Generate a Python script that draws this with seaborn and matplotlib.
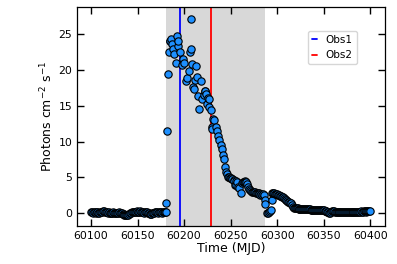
import numpy as np
import pandas as pd
import matplotlib
matplotlib.use('Agg')
import matplotlib.pyplot as plt
import seaborn as sns

# quiescent phase before the outburst (daily, starting MJD 60100)
pre_start = 60100
pre_flux = [0.10, 0.12, 0.08, 0.10, 0.15, 0.05, 0.10, 0.12, 0.08, 0.05,
            0.10, 0.15, 0.20, 0.25, 0.30, 0.20, 0.15, 0.10, 0.05, 0.10,
            0.08, 0.05, 0.00, 0.05, 0.10, 0.05, 0.00, -0.05, 0.00, 0.05,
            0.10, 0.05, 0.00, -0.05, -0.10, -0.15, -0.20, -0.25, -0.30, -0.25,
            -0.20, -0.10, 0.00, 0.05, 0.10, 0.15, 0.20, 0.15, 0.20, 0.25,
            0.20, 0.15, 0.20, 0.25, 0.20, 0.15, 0.10, 0.05, 0.10, 0.15,
            0.10, 0.05, 0.00, -0.10, -0.15, -0.10, -0.05, 0.00, 0.05, 0.10,
            0.15, 0.10, 0.05, 0.10, 0.15, 0.10, 0.05, 0.10, 0.15, 0.10]

# outburst
flare_t = [60180, 60181, 60180.5, 60182, 60183, 60184, 60184.5, 60185, 60186.5, 60187,
           60188, 60189.5, 60191, 60192, 60193.5, 60194, 60196, 60197.5, 60199, 60200,
           60202, 60203.5, 60205, 60206, 60207, 60208, 60209, 60210, 60211, 60212,
           60213, 60214, 60215.4, 60216, 60218, 60219.7, 60221.5, 60222, 60223, 60224,
           60224.3, 60226, 60226.5, 60227, 60228.6, 60230.4, 60230.5, 60231.5, 60232, 60234,
           60235, 60236.5, 60237.5, 60240, 60241, 60242, 60243, 60244, 60245.5, 60246,
           60247, 60248, 60249, 60250, 60251, 60252, 60253.5, 60254, 60255, 60255.4,
           60256, 60257, 60258, 60259, 60261.5, 60262.5, 60263, 60264.3, 60265, 60266,
           60267, 60268, 60269, 60270, 60271, 60272, 60273, 60274, 60275, 60276,
           60277, 60278, 60279, 60280, 60281, 60282, 60283, 60284, 60285, 60286,
           60286.5, 60287.5, 60289.4]
flare_flux = [0.10, 1.44, 0.10, 11.5, 19.4, 22.5, 24.0, 24.1, 24.4, 23.7,
              22.9, 22.2, 21.0, 24.8, 23.3, 24.1, 22.5, 20.7, 21.6, 21.0,
              18.5, 18.9, 19.9, 22.5, 27.2, 23.0, 20.9, 17.6, 17.3, 18.6,
              20.6, 19.0, 16.4, 14.5, 18.5, 16.0, 16.5, 17.1, 17.1, 16.6,
              15.2, 16.1, 15.9, 14.9, 14.4, 12.1, 11.75, 13.1, 13.0, 12.1,
              11.5, 10.8, 10.2, 9.5, 9.0, 8.1, 7.5, 6.4, 5.8, 5.5,
              5.1, 5.0, 4.9, 4.85, 4.8, 4.7, 4.6, 4.5, 3.9, 4.5,
              4.0, 4.4, 3.7, 3.45, 2.75, 4.15, 4.3, 4.4, 4.45, 4.4,
              4.3, 4.1, 3.7, 3.4, 3.2, 3.1, 3.0, 3.0, 3.0, 2.9,
              2.75, 2.75, 2.8, 2.75, 2.65, 2.6, 2.7, 2.6, 2.65, 2.5,
              1.9, 1.25, 0.0]

# decay / return to quiescence (daily, starting MJD 60290)
post_start = 60290
post_flux = [0.05, 0.10, 0.30, 0.50, 1.80, 2.85, 2.80, 2.75, 2.70, 2.70,
             2.65, 2.60, 2.50, 2.45, 2.35, 2.30, 2.20, 2.10, 2.00, 1.90,
             1.80, 1.70, 1.60, 1.50, 1.45, 1.35, 1.20, 0.90, 0.75, 0.70,
             0.65, 0.65, 0.65, 0.62, 0.62, 0.60, 0.60, 0.60, 0.60, 0.58,
             0.58, 0.55, 0.55, 0.55, 0.52, 0.52, 0.50, 0.50, 0.50, 0.50,
             0.48, 0.45, 0.45, 0.42, 0.42, 0.40, 0.40, 0.40, 0.40, 0.40,
             0.38, 0.35, 0.30, 0.25, 0.20, 0.10, 0.00, 0.00, 0.15, 0.25,
             0.30, 0.30, 0.20, 0.20, 0.20, 0.22, 0.20, 0.20, 0.20, 0.22,
             0.20, 0.20, 0.22, 0.20, 0.20, 0.20, 0.22, 0.20, 0.20, 0.22,
             0.20, 0.20, 0.22, 0.22, 0.20, 0.20, 0.22, 0.22, 0.20, 0.22,
             0.25, 0.22, 0.22, 0.25, 0.25, 0.22, 0.25, 0.25, 0.28, 0.28,
             0.30]

obs1 = 60195.7
obs2 = 60228.6
span_lo, span_hi = 60181.0, 60287.5

pre_t = np.arange(pre_start, pre_start + len(pre_flux))
post_t = np.arange(post_start, post_start + len(post_flux))
df = pd.DataFrame({
    'mjd': np.concatenate([pre_t, flare_t, post_t]),
    'flux': np.concatenate([pre_flux, flare_flux, post_flux]),
})

sns.set_style('ticks', {'axes.edgecolor': 'black', 'xtick.color': 'black',
                        'ytick.color': 'black', 'text.color': 'black',
                        'axes.labelcolor': 'black'})
plt.rcParams['font.family'] = ['DejaVu Sans']

fig = plt.figure(figsize=(3.97, 2.64), dpi=100)
ax = fig.add_axes([0.194, 0.144, 0.776, 0.829])
ax.axvspan(span_lo, span_hi, color='grey', alpha=0.3, lw=0, zorder=0)
ax.axvline(obs1, color='blue', lw=1.3, label='Obs1', zorder=1)
ax.axvline(obs2, color='red', lw=1.3, label='Obs2', zorder=1)
sns.scatterplot(data=df, x='mjd', y='flux', ax=ax, s=28, color='#1e90ff',
                edgecolor='black', linewidth=0.8, zorder=3, legend=False)

ax.set_xlim(60085, 60416)
ax.set_ylim(-1.8, 28.8)
ax.set_xticks([60100, 60150, 60200, 60250, 60300, 60350, 60400])
ax.set_yticks([0, 5, 10, 15, 20, 25])
ax.tick_params(direction='in', top=True, right=True, length=5, width=1,
               labelsize=7.8, colors='black')
for sp in ax.spines.values():
    sp.set_linewidth(0.9)
    sp.set_color('black')
ax.set_xlabel('Time (MJD)', fontsize=9, labelpad=1, color='black')
ax.set_ylabel('Photons cm$^{-2}$ s$^{-1}$', fontsize=9, labelpad=2, color='black')
ax.legend(loc='upper right', bbox_to_anchor=(0.925, 0.915), fontsize=7.5,
          handlelength=0.5, handletextpad=0.8, frameon=True, borderpad=0.4)

fig.savefig('out.png', dpi=100)
